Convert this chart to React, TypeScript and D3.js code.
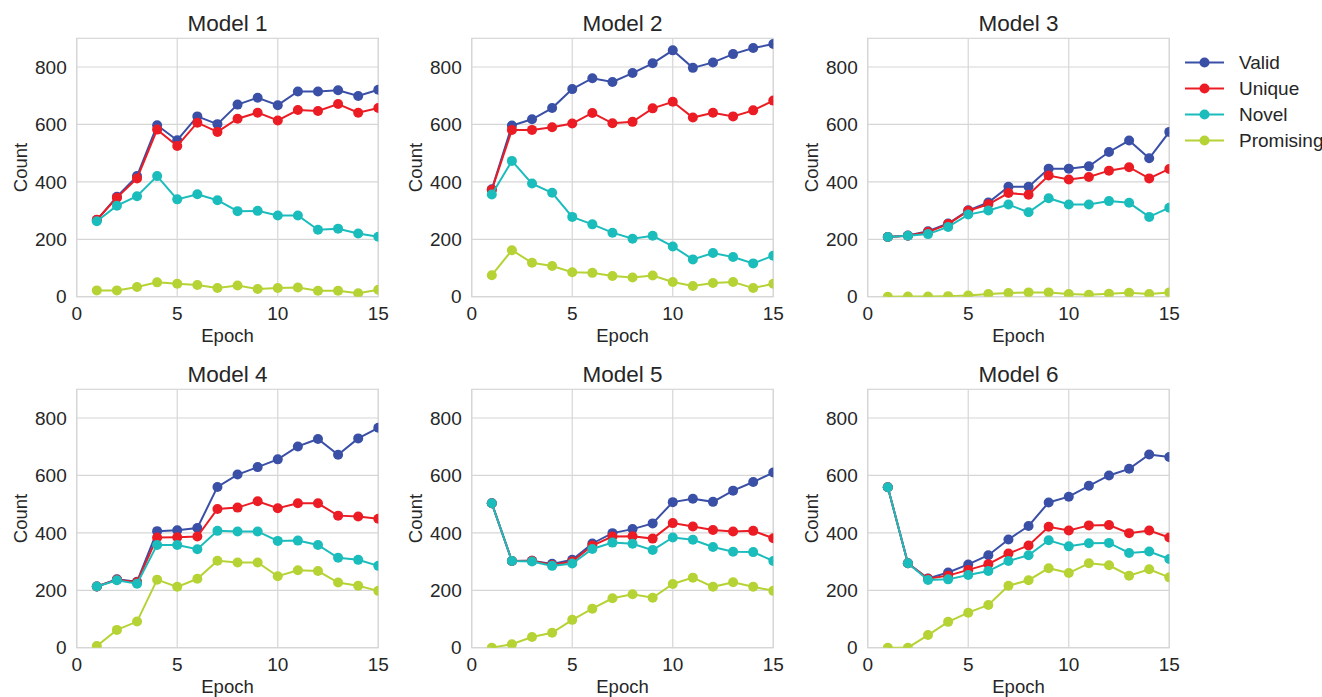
import React from "react";
import * as d3 from "d3";

const epochs = d3.range(1, 16);
const seriesNames = ["Valid", "Unique", "Novel", "Promising"];
const seriesColors = ["#3a4fa6", "#ec1c24", "#1bbcbc", "#b5d334"];
const modelTitles = ["Model 1", "Model 2", "Model 3", "Model 4", "Model 5", "Model 6"];
const xTicks = [0, 5, 10, 15];
const yTicks = [0, 200, 400, 600, 800];

const model1Valid = [267, 348, 420, 597, 545, 628, 601, 669, 693, 667, 715, 715, 719, 699, 721];
const model1Unique = [268, 345, 412, 582, 525, 606, 574, 620, 641, 614, 650, 647, 671, 641, 657];
const model1Novel = [263, 317, 350, 420, 339, 357, 336, 298, 299, 283, 283, 233, 237, 220, 209];
const model1Promising = [22, 22, 34, 50, 45, 41, 30, 39, 27, 30, 32, 21, 21, 12, 24];

const model2Valid = [374, 596, 618, 657, 723, 761, 748, 779, 813, 858, 797, 816, 845, 866, 880];
const model2Unique = [372, 581, 581, 590, 603, 640, 604, 609, 656, 679, 624, 641, 628, 649, 683];
const model2Novel = [356, 473, 394, 362, 278, 252, 223, 202, 212, 175, 130, 152, 138, 116, 143];
const model2Promising = [75, 162, 118, 107, 85, 83, 72, 67, 74, 51, 37, 48, 51, 30, 45];

const model3Valid = [208, 213, 228, 255, 301, 328, 383, 383, 446, 446, 454, 504, 544, 482, 574];
const model3Unique = [208, 212, 225, 253, 299, 322, 361, 355, 422, 408, 417, 439, 451, 412, 445];
const model3Novel = [208, 212, 218, 243, 286, 300, 321, 294, 343, 321, 321, 333, 327, 278, 310];
const model3Promising = [0, 1, 1, 2, 4, 9, 13, 15, 15, 9, 7, 10, 14, 9, 15];

const model4Valid = [213, 238, 230, 406, 409, 417, 560, 603, 629, 656, 701, 727, 672, 729, 766];
const model4Unique = [213, 237, 228, 384, 385, 387, 483, 488, 510, 486, 503, 503, 460, 457, 449];
const model4Novel = [213, 235, 223, 358, 358, 343, 407, 405, 405, 372, 373, 358, 313, 306, 285];
const model4Promising = [6, 62, 91, 237, 212, 240, 303, 297, 297, 249, 270, 267, 227, 216, 198];

const model5Valid = [503, 302, 303, 292, 306, 363, 399, 413, 433, 507, 519, 508, 547, 577, 610];
const model5Unique = [503, 302, 303, 288, 300, 356, 387, 388, 380, 434, 422, 410, 405, 407, 381];
const model5Novel = [503, 302, 300, 285, 293, 344, 366, 362, 340, 384, 376, 351, 334, 333, 302];
const model5Promising = [0, 12, 37, 52, 97, 136, 172, 186, 174, 222, 244, 212, 228, 212, 198];

const model6Valid = [559, 294, 241, 262, 290, 322, 377, 424, 506, 526, 564, 600, 623, 673, 664];
const model6Unique = [559, 294, 240, 251, 271, 291, 328, 356, 421, 408, 426, 427, 399, 408, 384];
const model6Novel = [559, 294, 236, 238, 253, 267, 302, 322, 374, 353, 364, 365, 330, 335, 309];
const model6Promising = [0, 0, 44, 90, 122, 149, 216, 235, 277, 260, 294, 287, 251, 273, 245];

const models = [
  [model1Valid, model1Unique, model1Novel, model1Promising],
  [model2Valid, model2Unique, model2Novel, model2Promising],
  [model3Valid, model3Unique, model3Novel, model3Promising],
  [model4Valid, model4Unique, model4Novel, model4Promising],
  [model5Valid, model5Unique, model5Novel, model5Promising],
  [model6Valid, model6Unique, model6Novel, model6Promising],
];

const W = 1322;
const H = 697;
const panelLefts = [76.7, 471.7, 867.7];
const panelTops = [38.3, 389.3];
const pw = 301.6;
const ph = 258.4;
const textColor = "#262626";
const gridColor = "#d6d6d6";
const font = "'Liberation Sans', Arial, sans-serif";

function Panel({ idx }: { idx: number }) {
  const left = panelLefts[idx % 3];
  const top = panelTops[Math.floor(idx / 3)];
  const x = d3.scaleLinear().domain([0, 15]).range([0, pw]);
  const y = d3.scaleLinear().domain([0, 900]).range([ph, 0]);
  const line = d3
    .line<number>()
    .x((_, i) => x(epochs[i]))
    .y((d) => y(d));
  const clipId = `clip${idx}`;
  return (
    <g transform={`translate(${left},${top})`}>
      <defs>
        <clipPath id={clipId}>
          <rect x={0} y={0} width={pw} height={ph} />
        </clipPath>
      </defs>
      {xTicks.map((t) => (
        <line key={"gx" + t} x1={x(t)} x2={x(t)} y1={0} y2={ph} stroke={gridColor} strokeWidth={1.2} />
      ))}
      {yTicks.map((t) => (
        <line key={"gy" + t} x1={0} x2={pw} y1={y(t)} y2={y(t)} stroke={gridColor} strokeWidth={1.2} />
      ))}
      <rect x={0} y={0} width={pw} height={ph} fill="none" stroke={gridColor} strokeWidth={1.2} />
      <g clipPath={`url(#${clipId})`}>
        {models[idx].map((vals, si) => (
          <g key={si}>
            <path d={line(vals) || ""} fill="none" stroke={seriesColors[si]} strokeWidth={2} />
            {vals.map((v, i) => (
              <circle key={i} cx={x(epochs[i])} cy={y(v)} r={5} fill={seriesColors[si]} />
            ))}
          </g>
        ))}
      </g>
      {xTicks.map((t) => (
        <text key={"tx" + t} x={x(t)} y={ph + 23.5} textAnchor="middle" fontSize={19} fill={textColor} fontFamily={font}>
          {t}
        </text>
      ))}
      {yTicks.map((t) => (
        <text key={"ty" + t} x={-10} y={y(t) + 6.8} textAnchor="end" fontSize={19} fill={textColor} fontFamily={font}>
          {t}
        </text>
      ))}
      <text x={pw / 2} y={ph + 45} textAnchor="middle" fontSize={18.5} fill={textColor} fontFamily={font}>
        Epoch
      </text>
      <text
        transform={`translate(${-50},${ph / 2}) rotate(-90)`}
        textAnchor="middle"
        fontSize={18.5}
        fill={textColor}
        fontFamily={font}
      >
        Count
      </text>
      <text x={pw / 2} y={-7.5} textAnchor="middle" fontSize={22.5} fill={textColor} fontFamily={font}>
        {modelTitles[idx]}
      </text>
    </g>
  );
}

function Legend() {
  const lx = 1185;
  const ly = 62.5;
  const step = 26;
  return (
    <g>
      {seriesNames.map((n, i) => (
        <g key={n} transform={`translate(${lx},${ly + i * step})`}>
          <line x1={0} x2={39} y1={0} y2={0} stroke={seriesColors[i]} strokeWidth={2} />
          <circle cx={19.5} cy={0} r={5} fill={seriesColors[i]} />
          <text x={54} y={6.8} fontSize={19} fill={textColor} fontFamily={font}>
            {n}
          </text>
        </g>
      ))}
    </g>
  );
}

export default function App() {
  return (
    <svg width={W} height={H} style={{ position: "absolute", left: 0, top: 0, background: "#fff" }}>
      <rect width={W} height={H} fill="#fff" />
      {modelTitles.map((_, i) => (
        <Panel key={i} idx={i} />
      ))}
      <Legend />
    </svg>
  );
}
